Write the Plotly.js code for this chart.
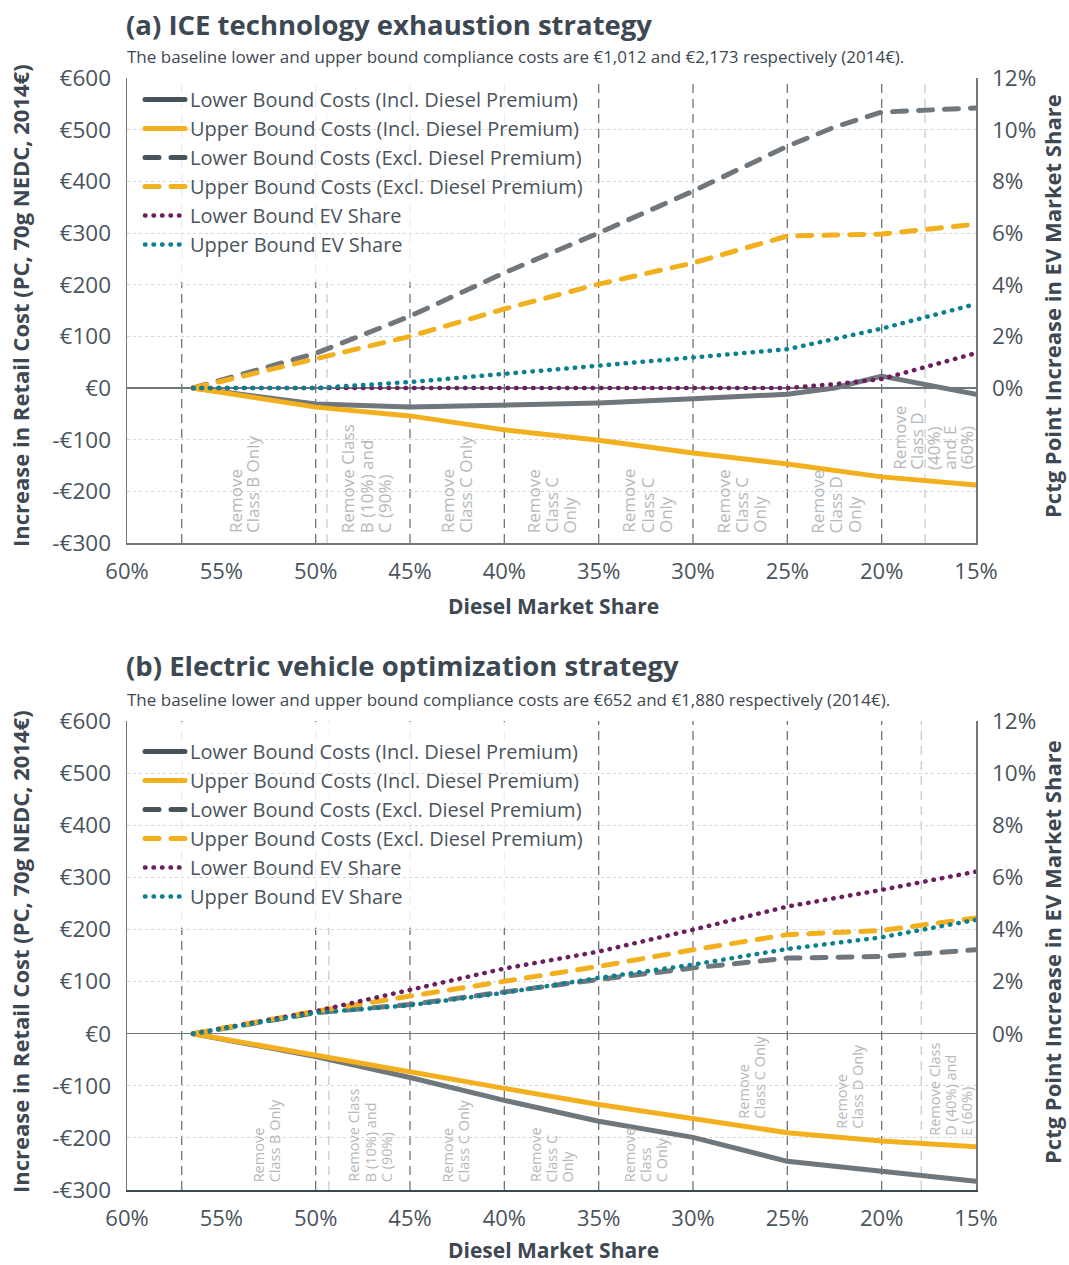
<!DOCTYPE html>
<html>
<head>
<meta charset="utf-8">
<script src="https://cdn.plot.ly/plotly-3.0.1.min.js"></script>
<style>
  html, body { margin: 0; padding: 0; background: #ffffff; }
  #chart { width: 1069px; height: 1265px; }
</style>
</head>
<body>
<div id="chart"></div>
<script>
// ---------- DATA ----------
const xTicks = [60, 55, 50, 45, 40, 35, 30, 25, 20, 15];
const xTickText = ["60%", "55%", "50%", "45%", "40%", "35%", "30%", "25%", "20%", "15%"];
const costTicks = [-300, -200, -100, 0, 100, 200, 300, 400, 500, 600];
const costTickText = ["-€300", "-€200", "-€100", "€0", "€100", "€200", "€300", "€400", "€500", "€600"];
const evTicks = [0, 2, 4, 6, 8, 10, 12];
const evTickText = ["0%", "2%", "4%", "6%", "8%", "10%", "12%"];

const seriesNames = [
  "Lower Bound Costs (Incl. Diesel Premium)",
  "Upper Bound Costs (Incl. Diesel Premium)",
  "Lower Bound Costs (Excl. Diesel Premium)",
  "Upper Bound Costs (Excl. Diesel Premium)",
  "Lower Bound EV Share",
  "Upper Bound EV Share"
];

// (a) ICE technology exhaustion strategy
const dieselShareA = [56.5, 50, 45, 40, 35, 30, 25, 22.5, 20, 15];
const lowerInclA = [0, -31, -37, -33, -29, -21, -12, 0, 23, -12];
const upperInclA = [0, -37, -54, -81, -101, -126, -147, -160, -172, -188];
const lowerExclA = [0, 67, 139, 223, 300, 381, 468, 505, 534, 542];
const upperExclA = [0, 56, 100, 153, 201, 242, 294, 296, 298, 317];
const lowerEVA = [0, 0, 0, 0, 0, 0, 0, 0.15, 0.35, 1.35];
const upperEVA = [0, 0, 0.23, 0.54, 0.89, 1.16, 1.5, 1.9, 2.3, 3.25];

// (b) Electric vehicle optimization strategy
const dieselShareB = [56.5, 50, 45, 40, 35, 30, 25, 20, 15];
const lowerInclB = [0, -44, -84, -128, -168, -199, -245, -264, -283];
const upperInclB = [0, -42, -72, -105, -136, -163, -190, -206, -217];
const lowerExclB = [0, 40, 56, 81, 104, 126, 145, 148, 161];
const upperExclB = [0, 43, 72, 101, 129, 161, 190, 198, 222];
const lowerEVB = [0, 0.86, 1.68, 2.5, 3.15, 3.99, 4.88, 5.52, 6.22];
const upperEVB = [0, 0.8, 1.09, 1.57, 2.14, 2.65, 3.25, 3.7, 4.37];

// Segment boundaries (diesel share) and labels
const boundariesA = [57.1, 50, 45, 40, 35, 30, 25, 20];
const lightBoundariesA = [49.4, 17.7];
const boundariesB = [57.1, 50, 45, 40, 35, 30, 25, 20];
const lightBoundariesB = [49.3, 17.9];

const labelsA = [
  "Remove<br>Class B Only",
  "Remove Class<br>B (10%) and<br>C (90%)",
  "Remove<br>Class C Only",
  "Remove<br>Class C<br>Only",
  "Remove<br>Class C<br>Only",
  "Remove<br>Class C<br>Only",
  "Remove<br>Class D<br>Only",
  "Remove<br>Class D<br>(40%)<br>and E<br>(60%)"
];
const labelXA = [53.8, 47.33, 42.56, 37.5, 32.44, 27.42, 22.43, 17.26];
const labelYA = [-283, -283, -283, -283, -283, -283, -283, -160];

const labelsB = [
  "Remove<br>Class B Only",
  "Remove Class<br>B (10%) and<br>C (90%)",
  "Remove<br>Class C Only",
  "Remove<br>Class C<br>Only",
  "Remove<br>Class<br>C Only",
  "Remove<br>Class C Only",
  "Remove<br>Class D Only",
  "Remove Class<br>D (40%) and<br>E (60%)"
];
const labelXB = [52.6, 47.12, 42.57, 37.51, 32.52, 26.9, 21.75, 16.33];
const labelYB = [-287, -287, -287, -287, -287, -165, -184, -197];

// ---------- STYLE ----------
const GRAY = "#6f767c";
const DARK = "#47525a";
const YELLOW = "#f2b01e";
const PURPLE = "#6b1f5e";
const TEAL = "#0a8090";
const TEXT = "#3d4852";
const FONT = "Open Sans, Noto Sans, sans-serif";

const styles = [
  {color: GRAY, width: 5, dash: "solid", ev: false},
  {color: YELLOW, width: 5, dash: "solid", ev: false},
  {color: GRAY, width: 5, dash: "14px,12px", ev: false},
  {color: YELLOW, width: 5, dash: "14px,12px", ev: false},
  {color: PURPLE, width: 4.5, dash: "0.5px,8px", ev: true},
  {color: TEAL, width: 4.5, dash: "0.5px,8px", ev: true}
];

function makeTraces(x, ys, xa, yCost, yEv, legendId) {
  return ys.map((y, i) => ({
    type: "scatter",
    mode: "lines",
    x: x,
    y: y,
    name: seriesNames[i],
    xaxis: xa,
    yaxis: styles[i].ev ? yEv : yCost,
    legend: legendId,
    line: {color: styles[i].color, width: styles[i].width, dash: styles[i].dash},
    hoverinfo: "skip"
  }));
}

const tracesA = makeTraces(dieselShareA,
  [lowerInclA, upperInclA, lowerExclA, upperExclA, lowerEVA, upperEVA], "x", "y", "y2", "legend");
const tracesB = makeTraces(dieselShareB,
  [lowerInclB, upperInclB, lowerExclB, upperExclB, lowerEVB, upperEVB], "x2", "y3", "y4", "legend2");
const data = tracesA.concat(tracesB);

const W = 1069, H = 1265;
const xDom = [127 / W, 976 / W];
const domA = [1 - 543 / H, 1 - 78 / H];
const domB = [1 - 1190 / H, 1 - 721 / H];

function xAxis(anchor, lineColor) {
  return {
    domain: xDom, anchor: anchor, range: [60, 15],
    tickvals: xTicks, ticktext: xTickText,
    tickfont: {family: FONT, size: 22, color: "#4a545c"},
    ticks: "", ticklabelstandoff: 8,
    showgrid: false, zeroline: false,
    showline: true, linecolor: lineColor, linewidth: 2
  };
}
function costAxis(dom, anchor) {
  return {
    domain: dom, anchor: anchor, range: [-300, 600],
    tickvals: costTicks, ticktext: costTickText,
    tickfont: {family: FONT, size: 22.5, color: "#4a545c"},
    ticks: "", ticklabelstandoff: 10,
    showgrid: true, gridcolor: "#d4d6d8", griddash: "dot", gridwidth: 1,
    zeroline: true, zerolinecolor: GRAY, zerolinewidth: 1.5,
    showline: true, linecolor: GRAY, linewidth: 1.5
  };
}
function evAxis(overlay, anchor) {
  return {
    overlaying: overlay, anchor: anchor, side: "right", range: [-6, 12],
    tickvals: evTicks, ticktext: evTickText,
    tickfont: {family: FONT, size: 22.5, color: "#4a545c"},
    ticks: "", ticklabelstandoff: 10,
    showgrid: false, zeroline: false,
    showline: true, linecolor: GRAY, linewidth: 1.5
  };
}

const shapes = [];
function addBoundaries(list, xref, yref, color) {
  list.forEach(v => shapes.push({
    type: "line", xref: xref, yref: yref + " domain",
    x0: v, x1: v, y0: 0, y1: 1,
    line: {color: color, width: 1.3, dash: "9px,6px"},
    layer: "below"
  }));
}
addBoundaries(boundariesA, "x", "y", "#6d757b");
addBoundaries(lightBoundariesA, "x", "y", "#c9ccce");
addBoundaries(boundariesB, "x2", "y3", "#6d757b");
addBoundaries(lightBoundariesB, "x2", "y3", "#c9ccce");
// translucent legend panels (fade the boundary lines behind the legends)
shapes.push({type: "rect", xref: "x", yref: "y domain",
  x0: 59.95, x1: 35.35, y0: 0.561, y1: 0.998,
  fillcolor: "rgba(255,255,255,0.88)", line: {width: 0}, layer: "below"});
shapes.push({type: "rect", xref: "x2", yref: "y3 domain",
  x0: 59.95, x1: 35.35, y0: 0.559, y1: 0.998,
  fillcolor: "rgba(255,255,255,0.88)", line: {width: 0}, layer: "below"});

const annotations = [];
function addLabel(text, xref, yref, x, y, size, spacing) {
  const lines = text.split("<br>");
  const n = lines.length;
  lines.forEach((ln, k) => annotations.push({
    text: ln, xref: xref, yref: yref, x: x, y: y,
    xshift: (k - (n - 1) / 2) * spacing,
    xanchor: "center", yanchor: "bottom", textangle: -90, borderpad: 0,
    showarrow: false, font: {family: FONT, size: size, color: "#b3b8bc"}
  }));
}
labelsA.forEach((t, i) => addLabel(t, "x", "y", labelXA[i], labelYA[i], 17, i === 7 ? 16.7 : 18.4));
labelsB.forEach((t, i) => addLabel(t, "x2", "y3", labelXB[i], labelYB[i], 14.5, 16));

function paperText(text, px, py, size, bold, extra) {
  return Object.assign({
    text: bold ? "<b>" + text + "</b>" : text,
    xref: "paper", yref: "paper", x: px / W, y: 1 - py / H,
    xanchor: "left", yanchor: "middle", showarrow: false, borderpad: 0,
    font: {family: FONT, size: size, color: TEXT}
  }, extra || {});
}
annotations.push(paperText("(a) ICE technology exhaustion strategy", 125, 24, 27.5, true));
annotations.push(paperText("The baseline lower and upper bound compliance costs are €1,012 and €2,173 respectively (2014€).", 126, 57, 17, false));
annotations.push(paperText("(b) Electric vehicle optimization strategy", 125, 665, 27.5, true));
annotations.push(paperText("The baseline lower and upper bound compliance costs are €652 and €1,880 respectively (2014€).", 126, 699, 17, false));
annotations.push(paperText("Diesel Market Share", 553, 606, 21, true, {xanchor: "center"}));
annotations.push(paperText("Diesel Market Share", 553, 1265, 21, true, {xanchor: "center", yanchor: "bottom"}));
annotations.push(paperText("Increase in Retail Cost (PC, 70g NEDC, 2014€)", 20, 306, 22, true, {xanchor: "center", textangle: -90}));
annotations.push(paperText("Increase in Retail Cost (PC, 70g NEDC, 2014€)", 20, 952, 22, true, {xanchor: "center", textangle: -90}));
annotations.push(paperText("Pctg Point Increase in EV Market Share", 1068, 306, 22, true, {xanchor: "right", textangle: -90}));
annotations.push(paperText("Pctg Point Increase in EV Market Share", 1068, 952, 22, true, {xanchor: "right", textangle: -90}));

const legendBase = {
  xanchor: "left", yanchor: "top", bgcolor: "rgba(0,0,0,0)",
  borderwidth: 0, font: {family: FONT, size: 20, color: "#4a545c"},
  traceorder: "normal", itemwidth: 40, tracegroupgap: 0
};

const layout = {
  width: W, height: H,
  margin: {l: 0, r: 0, t: 0, b: 0},
  paper_bgcolor: "#ffffff", plot_bgcolor: "#ffffff",
  showlegend: true,
  legend: Object.assign({}, legendBase, {x: 140 / W, y: 1 - 80 / H}),
  legend2: Object.assign({}, legendBase, {x: 140 / W, y: 1 - 732 / H}),
  xaxis: xAxis("y", GRAY),
  yaxis: costAxis(domA, "x"),
  yaxis2: evAxis("y", "x"),
  xaxis2: xAxis("y3", "#3d4852"),
  yaxis3: costAxis(domB, "x2"),
  yaxis4: evAxis("y3", "x2"),
  shapes: shapes,
  annotations: annotations
};

function finishStyle() {
  document.querySelectorAll("#chart .scatterlayer .js-line, #chart .legendlines path").forEach(p => {
    p.style.strokeLinecap = "round";
    p.style.strokeLinejoin = "round";
  });
  // darker legend swatches for the lower-bound cost series, as in the original
  document.querySelectorAll("#chart .infolayer > g").forEach(g => {
    const items = g.querySelectorAll(".traces");
    if (items.length === 6) {
      [0, 2].forEach(i => {
        items[i].querySelectorAll(".legendlines path").forEach(p => { p.style.stroke = DARK; });
      });
    }
  });
}
Plotly.newPlot("chart", data, layout, {displayModeBar: false, staticPlot: true})
  .then(finishStyle)
  .catch(finishStyle);
</script>
</body>
</html>
